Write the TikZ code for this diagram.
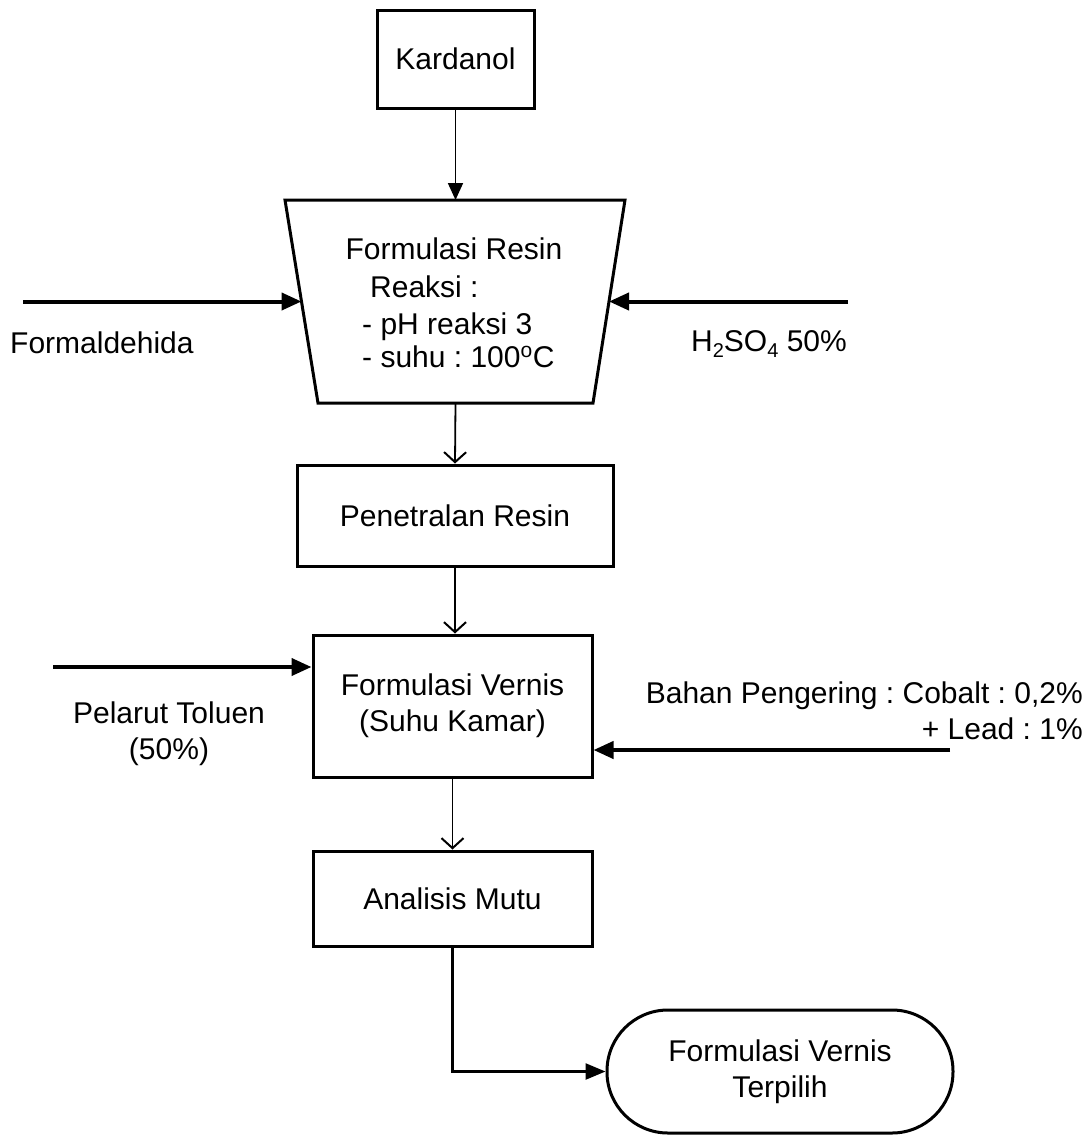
\documentclass[tikz,border=0pt]{standalone}
\usepackage{fontspec}
\setmainfont{Liberation Sans}
\usetikzlibrary{arrows.meta,calc}
\frenchspacing
\newcommand{\chemsub}[1]{\raisebox{-0.22em}{\fontsize{20}{20}\selectfont #1}}
\begin{document}
\begin{tikzpicture}[x=1pt,y=-1pt,
  every node/.style={font=\fontsize{30}{36}\selectfont, inner sep=0pt},
  procbox/.style={draw, line width=3pt, align=center},
  lbl/.style={align=center},
  inarrow/.style={line width=4pt, -{Triangle[length=20pt,width=17pt]}},
  downfill/.style={line width=1.8pt, -{Triangle[length=17pt,width=15pt]}},
  downopen/.style={line width=1.8pt, -{Straight Barb[length=10pt,width=22pt,line width=2pt]}},
  termfill/.style={line width=2.5pt, -{Triangle[length=20pt,width=16pt]}}]
\useasboundingbox (0,0) rectangle (1089,1136);

% Kardanol
\node[procbox, minimum width=157pt, minimum height=98pt] (kard) at (455.5,59) {Kardanol};

% Trapezoid (Formulasi Resin)
\coordinate (trTL) at (285,200);
\coordinate (trTR) at (625,200);
\coordinate (trBR) at (593,403);
\coordinate (trBL) at (318,403);
\draw[line width=3pt, line join=miter] (trTL) -- (trTR) -- (trBR) -- (trBL) -- cycle;
\coordinate (trTop) at (455.5,200);
\coordinate (trBot) at (455.5,403);
\coordinate (trL) at ($(trTL)!0.5!(trBL)$);
\coordinate (trR) at ($(trTR)!0.5!(trBR)$);
\node[anchor=base] (res1) at (454,259) {Formulasi Resin};
\node[anchor=base west] (res2) at (370,297) {Reaksi :};
\node[anchor=base west] (res3) at (362,334) {- pH reaksi 3};
\node[anchor=base west] (res4) at (362,367) {- suhu : 100\textsuperscript{o}C};

% Penetralan Resin
\node[procbox, minimum width=316pt, minimum height=101pt] (pen) at (455,515.5) {Penetralan Resin};

% Formulasi Vernis
\node[procbox, minimum width=279pt, minimum height=142pt] (vern) at (452.5,706) {Formulasi Vernis\\(Suhu Kamar)};

% Analisis Mutu
\node[procbox, minimum width=279pt, minimum height=95pt] (ana) at (452.5,898.5) {Analisis Mutu};

% Terminal
\node[draw, line width=3pt, rounded corners=61pt, minimum width=346pt, minimum height=123pt, align=center] (term) at (780,1071.5) {Formulasi Vernis\\Terpilih};

% Side inputs
\coordinate (formS) at (23,301.5);
\coordinate (h2S) at (848,301.5);
\coordinate (pelS) at (53,667);
\coordinate (bahS) at (950,750);

\node[anchor=base west] (formL) at (10,353) {Formaldehida};
\node[anchor=base east] (h2L) at (847,351) {H\chemsub{2}SO\chemsub{4} 50\%};
\node[lbl, anchor=base] (pelL1) at (169,723) {Pelarut Toluen};
\node[lbl, anchor=base] (pelL2) at (169,759) {(50\%)};
\node[anchor=base east] (bahL1) at (1083,703) {Bahan Pengering : Cobalt : 0,2\%};
\node[anchor=base east] (bahL2) at (1083,739) {+ Lead : 1\%};

% Connectors
\draw[downfill] (kard.south) -- (trTop);
\draw[downopen] (trBot) -- (pen.north);
\draw[downopen] (pen.south) -- (pen.south |- vern.north);
\draw[downopen] (vern.south) -- (ana.north);
\draw[termfill] (ana.south) |- (term.west);

\draw[inarrow] (formS) -- (trL);
\draw[inarrow] (h2S) -- (trR);
\draw[inarrow] (pelS) -- (vern.west |- pelS);
\draw[inarrow] (bahS) -- (vern.east |- bahS);
\end{tikzpicture}
\end{document}
